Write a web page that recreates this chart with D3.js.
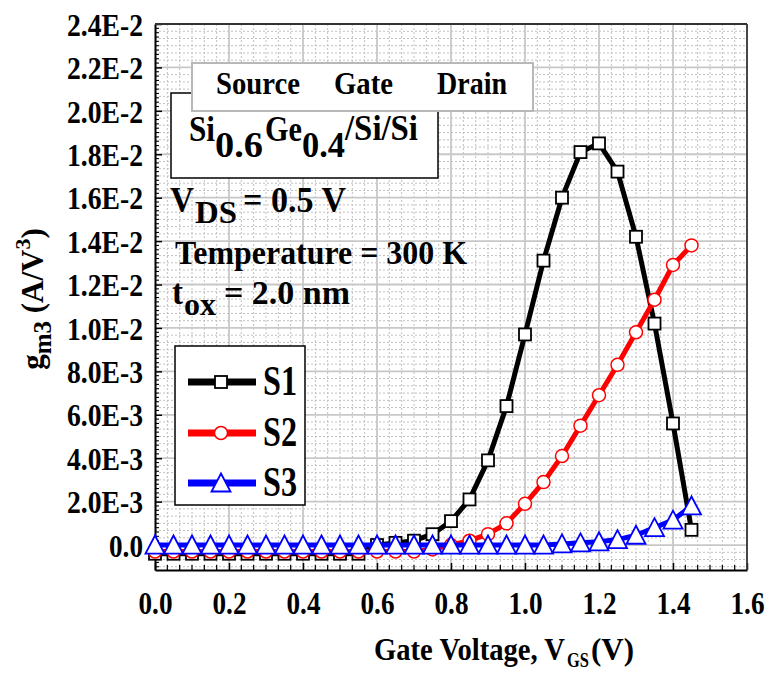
<!DOCTYPE html>
<html><head><meta charset="utf-8">
<script src="https://cdn.jsdelivr.net/npm/d3@7"></script>
<style>
html,body{margin:0;padding:0;background:#fff;}
svg{display:block;}
text{font-family:"Liberation Serif","Times New Roman",serif;font-weight:bold;}
</style></head>
<body>
<svg id="chart" width="769" height="673"></svg>
<script>
// ---------------- data ----------------
const vgs = [0.00,0.05,0.10,0.15,0.20,0.25,0.30,0.35,0.40,0.45,0.50,0.55,0.60,0.65,0.70,0.75,0.80,0.85,0.90,0.95,1.00,1.05,1.10,1.15,1.20,1.25,1.30,1.35,1.40,1.45];
const s1 = [-0.0004,-0.0004,-0.0004,-0.0004,-0.0004,-0.0004,-0.0004,-0.0004,-0.0004,-0.0004,-0.0004,-0.0004,0.0000,0.0001,0.0002,0.0005,0.0011,0.0021,0.0039,0.0064,0.0097,0.0131,0.0160,0.0181,0.0185,0.0172,0.0142,0.0102,0.0056,0.0007];
const s2 = [-0.0003,-0.0003,-0.0003,-0.0003,-0.0003,-0.0003,-0.0003,-0.0003,-0.0003,-0.0003,-0.0003,-0.0003,-0.0003,-0.0003,-0.0003,-0.0002,0.0000,0.0002,0.0005,0.0010,0.0019,0.0029,0.0041,0.0055,0.0069,0.0083,0.0098,0.0113,0.0129,0.0138];
const s3 = [0,0,0,0,0,0,0,0,0,0,0,0,0,0,0,0,0,0,0,0,0,0,0.00005,0.0001,0.00015,0.00025,0.00045,0.0008,0.00115,0.0018];
const seriesNames = ["S1","S2","S3"];
const seriesColors = ["#000000","#ff0000","#0000ff"];
const xTicks = [0,0.2,0.4,0.6,0.8,1.0,1.2,1.4,1.6];
const xTickLabels = ["0.0","0.2","0.4","0.6","0.8","1.0","1.2","1.4","1.6"];
const yTicks = [0,0.002,0.004,0.006,0.008,0.010,0.012,0.014,0.016,0.018,0.020,0.022,0.024];
const yTickLabels = ["0.0","2.0E-3","4.0E-3","6.0E-3","8.0E-3","1.0E-2","1.2E-2","1.4E-2","1.6E-2","1.8E-2","2.0E-2","2.2E-2","2.4E-2"];

// ---------------- layout ----------------
const L = 155, R = 747, T = 24, B = 570;
const svg = d3.select("#chart");
const x = d3.scaleLinear().domain([0, 1.6]).range([L, R]);
const y = d3.scaleLinear().domain([-0.00115, 0.024]).range([B, T]);

function fit(sel, w){ sel.attr("textLength", w).attr("lengthAdjust","spacingAndGlyphs"); return sel; }
// horizontally-condensed text via transform (keeps bounding box honest)
function sfit(str, px, py, size, w){
  const t = svg.append("text").attr("font-size", size).text(str);
  const nat = t.node().getComputedTextLength();
  t.attr("transform", `translate(${px},${py}) scale(${w/nat},1)`);
  return t;
}
function isMajor(v, step){ return Math.abs(v/step - Math.round(v/step)) < 1e-6; }

// minor grid (dotted)
const gGrid = svg.append("g");
const xMinor = d3.range(1, 48).map(i => i*0.2/6).filter(v => !isMajor(v,0.2));
gGrid.selectAll("line.xm").data(xMinor).join("line")
  .attr("x1", d=>x(d)).attr("x2", d=>x(d)).attr("y1", T).attr("y2", B)
  .attr("stroke","#c0c0c0").attr("stroke-width",1).attr("stroke-dasharray","2,2");
const yMinorVals = d3.range(-6, 73).map(i => i*0.002/6).filter(v => v > -0.00115 && v < 0.024 && !isMajor(v,0.002));
gGrid.selectAll("line.ym").data(yMinorVals).join("line")
  .attr("x1", L).attr("x2", R).attr("y1", d=>y(d)).attr("y2", d=>y(d))
  .attr("stroke","#c0c0c0").attr("stroke-width",1).attr("stroke-dasharray","2,2");
// major grid
gGrid.selectAll("line.xM").data(xTicks.slice(1,-1)).join("line")
  .attr("x1", d=>x(d)).attr("x2", d=>x(d)).attr("y1", T).attr("y2", B)
  .attr("stroke","#c8c8c8").attr("stroke-width",1.8);
gGrid.selectAll("line.yM").data(yTicks.slice(0,-1)).join("line")
  .attr("x1", L).attr("x2", R).attr("y1", d=>y(d)).attr("y2", d=>y(d))
  .attr("stroke","#c8c8c8").attr("stroke-width",1.8);

// axes with inward ticks
const xAxis = d3.axisBottom(x).tickValues(xTicks).tickFormat((d,i)=>xTickLabels[i]).tickSizeInner(-7).tickSizeOuter(0);
const gx = svg.append("g").attr("transform",`translate(0,${B})`).call(xAxis);
gx.select(".domain").attr("stroke","#000").attr("stroke-width",2);
gx.selectAll(".tick line").attr("stroke","#000").attr("stroke-width",1.5);
gx.selectAll(".tick text").attr("font-size",32).attr("fill","#000").attr("dy",0).attr("y",44)
  .style("font-family",'"Liberation Serif",serif').style("font-weight","bold")
  .attr("textLength",34).attr("lengthAdjust","spacingAndGlyphs");
const xMinorTicks = d3.range(1, 48).map(i=>i*0.2/6).filter(v => !isMajor(v,0.2));
svg.append("g").selectAll("line").data(xMinorTicks).join("line")
  .attr("x1",d=>x(d)).attr("x2",d=>x(d)).attr("y1",B).attr("y2",B-5)
  .attr("stroke","#000").attr("stroke-width",1.2);

const yAxis = d3.axisLeft(y).tickValues(yTicks).tickFormat((d,i)=>yTickLabels[i]).tickSizeInner(-7).tickSizeOuter(0);
const gy = svg.append("g").attr("transform",`translate(${L},0)`).call(yAxis);
gy.select(".domain").attr("stroke","#000").attr("stroke-width",2);
gy.selectAll(".tick line").attr("stroke","#000").attr("stroke-width",1.5);
gy.selectAll(".tick text").attr("font-size",32).attr("fill","#000").attr("x",-12).attr("dy","0.35em")
  .style("font-family",'"Liberation Serif",serif').style("font-weight","bold")
  .attr("textLength",(d,i)=> yTickLabels[i].length>3 ? 76 : 34).attr("lengthAdjust","spacingAndGlyphs");
const yMinorTicks = d3.range(-6, 121).map(i=>i*0.002/10).filter(v => v > -0.00115 && v < 0.024 && !isMajor(v,0.002));
svg.append("g").selectAll("line").data(yMinorTicks).join("line")
  .attr("x1",L).attr("x2",L+4).attr("y1",d=>y(d)).attr("y2",d=>y(d))
  .attr("stroke","#000").attr("stroke-width",1.1);

// top/right frame
svg.append("line").attr("x1",L).attr("x2",R).attr("y1",T).attr("y2",T).attr("stroke","#333").attr("stroke-width",1.8);
svg.append("line").attr("x1",R).attr("x2",R).attr("y1",T).attr("y2",B).attr("stroke","#333").attr("stroke-width",1.8);

// ---------------- annotation boxes ----------------
svg.append("rect").attr("x",171).attr("y",93).attr("width",267).attr("height",85)
  .attr("fill","#fff").attr("stroke","#000").attr("stroke-width",1.5);
svg.append("rect").attr("x",192).attr("y",63).attr("width",341).attr("height",48)
  .attr("fill","#fff").attr("stroke","#b8b8b8").attr("stroke-width",2);
fit(svg.append("text").attr("x",216).attr("y",94).attr("font-size",32).text("Source"),84);
fit(svg.append("text").attr("x",334).attr("y",94).attr("font-size",32).text("Gate"),59);
fit(svg.append("text").attr("x",437).attr("y",94).attr("font-size",32).text("Drain"),70);

const comp = svg.append("g");
fit(comp.append("text").attr("x",189).attr("y",141).attr("font-size",36).text("Si"),26);
fit(comp.append("text").attr("x",215).attr("y",157).attr("font-size",36).text("0.6"),48);
fit(comp.append("text").attr("x",265).attr("y",141).attr("font-size",36).text("Ge"),37);
fit(comp.append("text").attr("x",302).attr("y",157).attr("font-size",36).text("0.4"),43);
fit(comp.append("text").attr("x",345).attr("y",140).attr("font-size",36).text("/Si/Si"),73);

fit(svg.append("text").attr("x",170).attr("y",212).attr("font-size",36).text("V"),24);
fit(svg.append("text").attr("x",195).attr("y",223).attr("font-size",32).text("DS"),42);
fit(svg.append("text").attr("x",243).attr("y",212).attr("font-size",35).text("= 0.5 V"),103);
fit(svg.append("text").attr("x",175).attr("y",264).attr("font-size",33).text("Temperature = 300 K"),292);
fit(svg.append("text").attr("x",172).attr("y",304).attr("font-size",36).text("t"),11);
fit(svg.append("text").attr("x",184).attr("y",315).attr("font-size",32).text("ox"),32);
fit(svg.append("text").attr("x",224).attr("y",304).attr("font-size",33).text("= 2.0 nm"),126);

// ---------------- series ----------------
const seriesData = [s1, s2, s3];
const line = d3.line().x((d,i)=>x(vgs[i])).y(d=>y(d));
function marker(g, type, color, cx, cy){
  if(type===0){
    g.append("rect").attr("x",cx-6).attr("y",cy-6).attr("width",12).attr("height",12)
      .attr("fill","#fff").attr("stroke",color).attr("stroke-width",1.8);
  } else if(type===1){
    g.append("circle").attr("cx",cx).attr("cy",cy).attr("r",6.5)
      .attr("fill","#fff").attr("stroke",color).attr("stroke-width",1.5);
  } else {
    g.append("path").attr("d",`M${cx},${cy-9.5}L${cx+9.5},${cy+8.5}L${cx-9.5},${cy+8.5}Z`)
      .attr("fill","#fff").attr("stroke",color).attr("stroke-width",1.8);
  }
}
seriesData.forEach((arr, k) => {
  const g = svg.append("g");
  g.append("path").datum(arr).attr("d", line).attr("fill","none")
    .attr("stroke", seriesColors[k]).attr("stroke-width",5).attr("stroke-linejoin","round");
  arr.forEach((v,i)=> marker(g, k, seriesColors[k], x(vgs[i]), y(v)));
});

// ---------------- legend ----------------
const lg = svg.append("g");
lg.append("rect").attr("x",175).attr("y",346).attr("width",130).attr("height",159)
  .attr("fill","#fff").attr("stroke","#000").attr("stroke-width",1.5);
const legY = [382, 433, 483];
seriesNames.forEach((nm,k)=>{
  lg.append("line").attr("x1",188).attr("x2",256).attr("y1",legY[k]).attr("y2",legY[k])
    .attr("stroke",seriesColors[k]).attr("stroke-width",7);
  marker(lg, k, seriesColors[k], 221, legY[k]);
  fit(lg.append("text").attr("x",263).attr("y",legY[k]+13).attr("font-size",42).text(nm),34);
});

// ---------------- axis titles ----------------
sfit("Gate Voltage, V", 374, 660, 31, 191);
sfit("GS", 567, 667, 20, 22);
sfit("(V)", 591, 660, 31, 43);

const yt = svg.append("text").attr("transform","translate(43,299) rotate(-90)").attr("text-anchor","middle").attr("font-size",31);
yt.append("tspan").text("g");
yt.append("tspan").attr("font-size",25).attr("dy",8).text("m3");
yt.append("tspan").attr("dy",-8).text(" (A/V");
yt.append("tspan").attr("font-size",22).attr("dy",-13).text("3");
yt.append("tspan").attr("dy",13).text(")");
</script>
</body></html>
